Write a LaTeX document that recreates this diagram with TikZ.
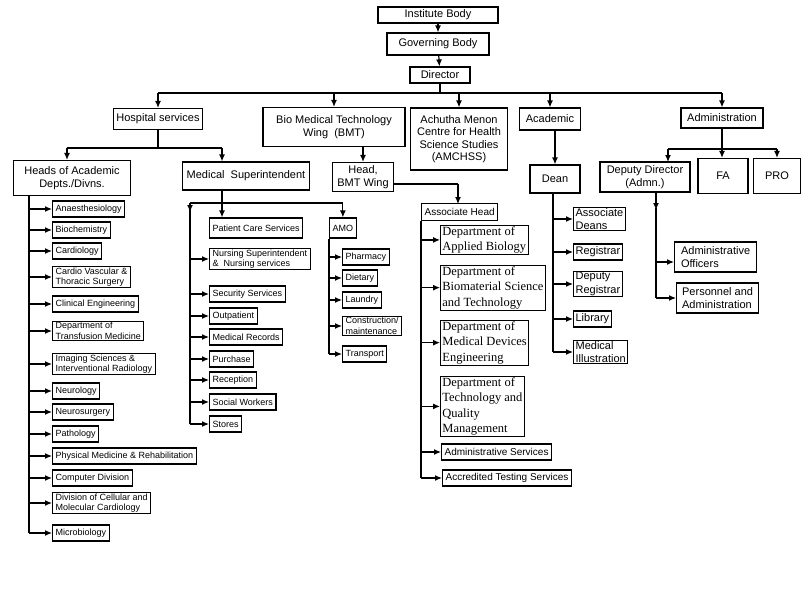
\documentclass[tikz,border=0pt]{standalone}
\usepackage{fontspec}
\setmainfont{Liberation Sans}
\newfontfamily\tnr{Liberation Serif}
\usetikzlibrary{arrows.meta,positioning}

\tikzset{
  box/.style={draw, line width=1.2pt, inner sep=2pt, align=center, font=\fontsize{11}{12.5}\selectfont},
  sbox/.style={draw, line width=1.2pt, inner xsep=3pt, inner ysep=1pt, minimum height=16, anchor=west, align=left, font=\fontsize{9}{10.5}\selectfont},
  dbox/.style={draw, line width=0.8pt, inner xsep=2pt, inner ysep=1pt, anchor=north west, align=left, font=\tnr\fontsize{12.5}{15.5}\selectfont},
  ln/.style={line width=1.2pt},
  arr/.style={line width=1.2pt, -{Latex[length=7pt,width=6pt]}}
}

\begin{document}
\begin{tikzpicture}[x=1pt,y=-1pt]
\useasboundingbox (0,0) rectangle (810,608);

% top of the tree
\node[box, minimum width=120, minimum height=16] (inst) at (438,15) {Institute Body};
\node[box, minimum width=102, minimum height=22] (gov) at (438,44) {Governing Body};
\node[box, minimum width=60, minimum height=16] (dir) at (440,75) {Director};
\draw[arr] (inst) -- (gov);
\draw[arr] (gov) -- (dir);

\node[box, minimum width=89, minimum height=21] (hosp) at (158,119) {Hospital services};
\node[box, minimum width=142, minimum height=39] (bmt) at (334,127) {Bio Medical Technology\\Wing\ \ (BMT)};
\node[box, minimum width=97, minimum height=62] (amc) at (459,139) {Achutha Menon\\Centre for Health\\Science Studies\\(AMCHSS)};
\node[box, minimum width=61, minimum height=22] (acad) at (550,119) {Academic};
\node[box, minimum width=82, minimum height=20] (adm) at (722,118) {Administration};

\coordinate (bus) at (0,93);
\draw[ln] (dir) -- (dir |- bus);
\draw[ln] (hosp.north |- bus) -- (adm.north |- bus);
\foreach \n in {hosp,bmt,amc,acad,adm}
  \draw[arr] (\n.north |- bus) -- (\n.north);

% hospital services
\node[box, minimum width=117, minimum height=35] (heads) at (72,178) {Heads of Academic\\Depts./Divns.};
\node[box, minimum width=127, minimum height=28] (msup) at (246,176) {Medical\ \ Superintendent};
\coordinate (hbus) at (0,148);
\coordinate (msin) at (222,148);
\draw[ln] (hosp) -- (hosp |- hbus);
\draw[ln] (67,148) -- (msin);
\draw[arr] (67,148) -- (heads.north -| 67,0);
\draw[arr] (msin) -- (msin |- msup.north);

% heads of departments
\foreach \n/\y/\t in {anae/209/Anaesthesiology, bioc/230/Biochemistry, card/251/Cardiology,
  cvts/277/{Cardio Vascular \&\\Thoracic Surgery}, clin/304/Clinical Engineering,
  tran/331/{Department of\\Transfusion Medicine}, imag/364/{Imaging Sciences \&\\Interventional Radiology},
  neur/391/Neurology, nsur/412/Neurosurgery, path/434/Pathology,
  phys/456/Physical Medicine \& Rehabilitation, comp/478/Computer Division,
  cell/503/{Division of Cellular and\\Molecular Cardiology}, micr/533/Microbiology}
{
  \node[sbox] (\n) at (52,\y) {\t};
  \draw[arr] (29,\y) -- (\n.west);
}
\draw[ln] (29,195) -- (29,533);

% medical superintendent
\coordinate (msbus) at (0,203);
\node[sbox, minimum height=20] (pcs) at (209,228) {Patient Care Services};
\node[sbox, minimum height=20] (amo) at (329,228) {AMO};
\draw[ln] (msin |- msup.south) -- (msin |- msbus);
\draw[ln] (190,203) -- (amo.north |- msbus);
\draw[arr] (190,203) -- (190,212);
\draw[arr] (msin |- msbus) -- (msin |- pcs.north);
\draw[arr] (amo.north |- msbus) -- (amo.north);
\foreach \n/\y/\t in {nurs/259/{Nursing Superintendent\\\&\ \ Nursing services}, secu/294/Security Services,
  outp/316/Outpatient, mrec/337/Medical Records, purc/359/Purchase, rece/380/Reception,
  socw/402/Social Workers, stor/424/Stores}
{
  \node[sbox] (\n) at (209,\y) {\t};
  \draw[arr] (190,\y) -- (\n.west);
}
\draw[ln] (190,203) -- (190,424);

% AMO
\foreach \n/\y/\t in {phar/257/Pharmacy, diet/278/Dietary, laun/300/Laundry,
  cons/326/{Construction/\\maintenance}, tspt/354/Transport}
{
  \node[sbox] (\n) at (342,\y) {\t};
  \draw[arr] (amo.south west |- 0,\y) -- (\n.west);
}
\draw[ln] (amo.south west) -- (amo.south west |- tspt.west);

% BMT wing
\node[box, minimum width=61, minimum height=29] (hbmt) at (363,177) {Head,\\BMT Wing};
\draw[arr] (hbmt.north |- bmt.south) -- (hbmt.north);
\node[sbox, minimum height=17, font=\fontsize{10}{12}\selectfont] (ahead) at (421,212) {Associate Head};
\draw[ln] (hbmt.east |- 0,184) -- (458,184);
\draw[arr] (458,184) -- (458,204);
\foreach \n/\y/\t in {dabi/225/{Department of\\Applied Biology}, dbms/265/{Department of\\Biomaterial Science\\and Technology},
  dmde/320/{Department of\\Medical Devices\\Engineering}, dtqm/376/{Department of\\Technology and\\Quality\\Management}}
{
  \node[dbox] (\n) at (440,\y) {\t};
  \draw[arr] (ahead.south west |- \n.west) -- (\n.west);
}
\node[sbox, font=\fontsize{10}{12}\selectfont] (asrv) at (441,452) {Administrative Services};
\node[sbox, font=\fontsize{10}{12}\selectfont] (atst) at (442,478) {Accredited Testing Services};
\draw[arr] (ahead.south west |- asrv.west) -- (asrv.west);
\draw[arr] (ahead.south west |- atst.west) -- (atst.west);
\draw[ln] (ahead.south west) -- (ahead.south west |- atst.west);

% academic
\node[box, minimum width=50, minimum height=28] (dean) at (555,179) {Dean};
\draw[arr] (acad.south -| dean) -- (dean.north);
\foreach \n/\y/\t in {adea/219/{Associate\\Deans}, regi/252/Registrar, dreg/284/{Deputy\\Registrar},
  libr/319/Library, mill/352/{Medical\\Illustration}}
{
  \node[sbox, font=\fontsize{11}{13.5}\selectfont, inner xsep=2pt] (\n) at (573,\y) {\t};
  \draw[arr] (553,\y) -- (\n.west);
}
\draw[ln] (553,193) -- (553,352);

% administration
\node[box, minimum width=90, minimum height=30] (ddir) at (645,177) {Deputy Director\\(Admn.)};
\node[box, minimum width=50, minimum height=35] (fa) at (723,176) {FA};
\node[box, minimum width=47, minimum height=35] (pro) at (777,176) {PRO};
\coordinate (abus) at (0,149);
\draw[arr] (adm.south) -- (adm.south |- fa.north);
\draw[ln] (668,149) -- (pro.north |- abus);
\draw[arr] (668,149) -- (668,162);
\draw[arr] (pro.north |- abus) -- (pro.north);
\node[box, minimum width=82, minimum height=30, align=left, anchor=west] (aoff) at (674,257) {Administrative\\Officers};
\node[box, minimum width=82, minimum height=30, align=left, anchor=west] (pers) at (676,298) {Personnel and\\Administration};
\draw[arr] (656,192) -- (656,210);
\draw[ln] (656,208) -- (656,298);
\draw[arr] (656,262) -- (aoff.west |- 0,262);
\draw[arr] (656,298) -- (pers.west);

\end{tikzpicture}
\end{document}
